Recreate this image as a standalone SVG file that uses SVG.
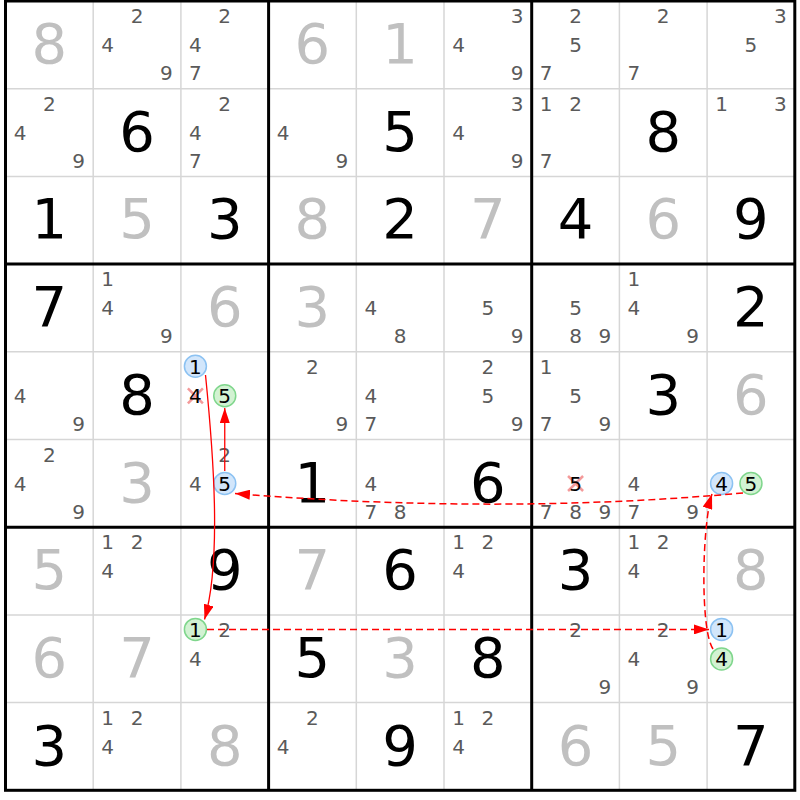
<svg xmlns="http://www.w3.org/2000/svg" width="800" height="800" viewBox="0 0 800 800">
<style>
text{font-family:"DejaVu Sans","Liberation Sans",sans-serif;text-anchor:middle}
.b{font-size:56px}
.g{fill:#c0c0c0}
.k{fill:#000}
.c{font-size:20px;fill:#5a5a5a}
.h{font-size:20px;fill:#000}
.thin{stroke:#d6d6d6;stroke-width:1.5}
.thick{stroke:#000;stroke-width:3}
.cb{fill:#d2e6fb;stroke:#8cc2f2;stroke-width:1.5}
.cg{fill:#d2f2d2;stroke:#7fd68c;stroke-width:1.5}
.x{stroke:#f49a9a;stroke-width:2.5}
.sol{fill:none;stroke:#ff0000;stroke-width:1.3}
.dash{fill:none;stroke:#ff0000;stroke-width:1.5;stroke-dasharray:7 4}
</style>
<defs>
<marker id="ah" markerUnits="userSpaceOnUse" viewBox="0 0 15 10" refX="15" refY="5" markerWidth="15" markerHeight="10" orient="auto">
<path d="M0,0 L15,5 L0,10 Z" fill="#ff0000"/>
</marker>
</defs>
<rect width="800" height="800" fill="#fff"/>
<g id="grid">
<g class="thin">
<line x1="93.2" y1="1" x2="93.2" y2="790.3"/><line x1="180.9" y1="1" x2="180.9" y2="790.3"/>
<line x1="356.3" y1="1" x2="356.3" y2="790.3"/><line x1="444" y1="1" x2="444" y2="790.3"/>
<line x1="619.4" y1="1" x2="619.4" y2="790.3"/><line x1="707.1" y1="1" x2="707.1" y2="790.3"/>
<line x1="5.5" y1="88.7" x2="794.8" y2="88.7"/><line x1="5.5" y1="176.4" x2="794.8" y2="176.4"/>
<line x1="5.5" y1="351.8" x2="794.8" y2="351.8"/><line x1="5.5" y1="439.5" x2="794.8" y2="439.5"/>
<line x1="5.5" y1="614.9" x2="794.8" y2="614.9"/><line x1="5.5" y1="702.6" x2="794.8" y2="702.6"/>
</g>
<g class="thick">
<line x1="268.6" y1="1" x2="268.6" y2="790.3"/><line x1="531.7" y1="1" x2="531.7" y2="790.3"/>
<line x1="5.5" y1="264.1" x2="794.8" y2="264.1"/><line x1="5.5" y1="527.2" x2="794.8" y2="527.2"/>
<rect x="5.5" y="1" width="789.3" height="789.3" fill="none"/>
</g>
</g>

<g id="r0c0" transform="translate(5.5,1)"><text class="b g" x="43.85" y="62">8</text></g>
<g id="r0c1" transform="translate(93.2,1)"><text class="c" x="43.85" y="22">2</text><text class="c" x="14.5" y="51">4</text><text class="c" x="73.2" y="79">9</text></g>
<g id="r0c2" transform="translate(180.9,1)"><text class="c" x="43.85" y="22">2</text><text class="c" x="14.5" y="51">4</text><text class="c" x="14.5" y="79">7</text></g>
<g id="r0c3" transform="translate(268.6,1)"><text class="b g" x="43.85" y="62">6</text></g>
<g id="r0c4" transform="translate(356.3,1)"><text class="b g" x="43.85" y="62">1</text></g>
<g id="r0c5" transform="translate(444,1)"><text class="c" x="73.2" y="22">3</text><text class="c" x="14.5" y="51">4</text><text class="c" x="73.2" y="79">9</text></g>
<g id="r0c6" transform="translate(531.7,1)"><text class="c" x="43.85" y="22">2</text><text class="c" x="43.85" y="51">5</text><text class="c" x="14.5" y="79">7</text></g>
<g id="r0c7" transform="translate(619.4,1)"><text class="c" x="43.85" y="22">2</text><text class="c" x="14.5" y="79">7</text></g>
<g id="r0c8" transform="translate(707.1,1)"><text class="c" x="73.2" y="22">3</text><text class="c" x="43.85" y="51">5</text></g>

<g id="r1c0" transform="translate(5.5,88.7)"><text class="c" x="43.85" y="22">2</text><text class="c" x="14.5" y="51">4</text><text class="c" x="73.2" y="79">9</text></g>
<g id="r1c1" transform="translate(93.2,88.7)"><text class="b k" x="43.85" y="62">6</text></g>
<g id="r1c2" transform="translate(180.9,88.7)"><text class="c" x="43.85" y="22">2</text><text class="c" x="14.5" y="51">4</text><text class="c" x="14.5" y="79">7</text></g>
<g id="r1c3" transform="translate(268.6,88.7)"><text class="c" x="14.5" y="51">4</text><text class="c" x="73.2" y="79">9</text></g>
<g id="r1c4" transform="translate(356.3,88.7)"><text class="b k" x="43.85" y="62">5</text></g>
<g id="r1c5" transform="translate(444,88.7)"><text class="c" x="73.2" y="22">3</text><text class="c" x="14.5" y="51">4</text><text class="c" x="73.2" y="79">9</text></g>
<g id="r1c6" transform="translate(531.7,88.7)"><text class="c" x="14.5" y="22">1</text><text class="c" x="43.85" y="22">2</text><text class="c" x="14.5" y="79">7</text></g>
<g id="r1c7" transform="translate(619.4,88.7)"><text class="b k" x="43.85" y="62">8</text></g>
<g id="r1c8" transform="translate(707.1,88.7)"><text class="c" x="14.5" y="22">1</text><text class="c" x="73.2" y="22">3</text></g>

<g id="r2c0" transform="translate(5.5,176.4)"><text class="b k" x="43.85" y="62">1</text></g>
<g id="r2c1" transform="translate(93.2,176.4)"><text class="b g" x="43.85" y="62">5</text></g>
<g id="r2c2" transform="translate(180.9,176.4)"><text class="b k" x="43.85" y="62">3</text></g>
<g id="r2c3" transform="translate(268.6,176.4)"><text class="b g" x="43.85" y="62">8</text></g>
<g id="r2c4" transform="translate(356.3,176.4)"><text class="b k" x="43.85" y="62">2</text></g>
<g id="r2c5" transform="translate(444,176.4)"><text class="b g" x="43.85" y="62">7</text></g>
<g id="r2c6" transform="translate(531.7,176.4)"><text class="b k" x="43.85" y="62">4</text></g>
<g id="r2c7" transform="translate(619.4,176.4)"><text class="b g" x="43.85" y="62">6</text></g>
<g id="r2c8" transform="translate(707.1,176.4)"><text class="b k" x="43.85" y="62">9</text></g>

<g id="r3c0" transform="translate(5.5,264.1)"><text class="b k" x="43.85" y="62">7</text></g>
<g id="r3c1" transform="translate(93.2,264.1)"><text class="c" x="14.5" y="22">1</text><text class="c" x="14.5" y="51">4</text><text class="c" x="73.2" y="79">9</text></g>
<g id="r3c2" transform="translate(180.9,264.1)"><text class="b g" x="43.85" y="62">6</text></g>
<g id="r3c3" transform="translate(268.6,264.1)"><text class="b g" x="43.85" y="62">3</text></g>
<g id="r3c4" transform="translate(356.3,264.1)"><text class="c" x="14.5" y="51">4</text><text class="c" x="43.85" y="79">8</text></g>
<g id="r3c5" transform="translate(444,264.1)"><text class="c" x="43.85" y="51">5</text><text class="c" x="73.2" y="79">9</text></g>
<g id="r3c6" transform="translate(531.7,264.1)"><text class="c" x="43.85" y="51">5</text><text class="c" x="43.85" y="79">8</text><text class="c" x="73.2" y="79">9</text></g>
<g id="r3c7" transform="translate(619.4,264.1)"><text class="c" x="14.5" y="22">1</text><text class="c" x="14.5" y="51">4</text><text class="c" x="73.2" y="79">9</text></g>
<g id="r3c8" transform="translate(707.1,264.1)"><text class="b k" x="43.85" y="62">2</text></g>

<g id="r4c0" transform="translate(5.5,351.8)"><text class="c" x="14.5" y="51">4</text><text class="c" x="73.2" y="79">9</text></g>
<g id="r4c1" transform="translate(93.2,351.8)"><text class="b k" x="43.85" y="62">8</text></g>
<g id="r4c2" transform="translate(180.9,351.8)">
<circle class="cb" cx="14.5" cy="14.5" r="11"/><text class="h" x="14.5" y="22">1</text>
<line class="x" x1="7" y1="36.5" x2="22" y2="51.5"/><line class="x" x1="22" y1="36.5" x2="7" y2="51.5"/><text class="h" x="14.5" y="51">4</text>
<circle class="cg" cx="43.85" cy="44" r="11"/><text class="h" x="43.85" y="51">5</text>
</g>
<g id="r4c3" transform="translate(268.6,351.8)"><text class="c" x="43.85" y="22">2</text><text class="c" x="73.2" y="79">9</text></g>
<g id="r4c4" transform="translate(356.3,351.8)"><text class="c" x="14.5" y="51">4</text><text class="c" x="14.5" y="79">7</text></g>
<g id="r4c5" transform="translate(444,351.8)"><text class="c" x="43.85" y="22">2</text><text class="c" x="43.85" y="51">5</text><text class="c" x="73.2" y="79">9</text></g>
<g id="r4c6" transform="translate(531.7,351.8)"><text class="c" x="14.5" y="22">1</text><text class="c" x="43.85" y="51">5</text><text class="c" x="14.5" y="79">7</text><text class="c" x="73.2" y="79">9</text></g>
<g id="r4c7" transform="translate(619.4,351.8)"><text class="b k" x="43.85" y="62">3</text></g>
<g id="r4c8" transform="translate(707.1,351.8)"><text class="b g" x="43.85" y="62">6</text></g>

<g id="r5c0" transform="translate(5.5,439.5)"><text class="c" x="43.85" y="22">2</text><text class="c" x="14.5" y="51">4</text><text class="c" x="73.2" y="79">9</text></g>
<g id="r5c1" transform="translate(93.2,439.5)"><text class="b g" x="43.85" y="62">3</text></g>
<g id="r5c2" transform="translate(180.9,439.5)"><text class="c" x="43.85" y="22">2</text><text class="c" x="14.5" y="51">4</text><circle class="cb" cx="43.85" cy="44" r="11"/><text class="h" x="43.85" y="51">5</text></g>
<g id="r5c3" transform="translate(268.6,439.5)"><text class="b k" x="43.85" y="62">1</text></g>
<g id="r5c4" transform="translate(356.3,439.5)"><text class="c" x="14.5" y="51">4</text><text class="c" x="14.5" y="79">7</text><text class="c" x="43.85" y="79">8</text></g>
<g id="r5c5" transform="translate(444,439.5)"><text class="b k" x="43.85" y="62">6</text></g>
<g id="r5c6" transform="translate(531.7,439.5)"><line class="x" x1="36.35" y1="36.5" x2="51.35" y2="51.5"/><line class="x" x1="51.35" y1="36.5" x2="36.35" y2="51.5"/><text class="h" x="43.85" y="51">5</text><text class="c" x="14.5" y="79">7</text><text class="c" x="43.85" y="79">8</text><text class="c" x="73.2" y="79">9</text></g>
<g id="r5c7" transform="translate(619.4,439.5)"><text class="c" x="14.5" y="51">4</text><text class="c" x="14.5" y="79">7</text><text class="c" x="73.2" y="79">9</text></g>
<g id="r5c8" transform="translate(707.1,439.5)"><circle class="cb" cx="14.5" cy="44" r="11"/><text class="h" x="14.5" y="51">4</text><circle class="cg" cx="43.85" cy="44" r="11"/><text class="h" x="43.85" y="51">5</text></g>

<g id="r6c0" transform="translate(5.5,527.2)"><text class="b g" x="43.85" y="62">5</text></g>
<g id="r6c1" transform="translate(93.2,527.2)"><text class="c" x="14.5" y="22">1</text><text class="c" x="43.85" y="22">2</text><text class="c" x="14.5" y="51">4</text></g>
<g id="r6c2" transform="translate(180.9,527.2)"><text class="b k" x="43.85" y="62">9</text></g>
<g id="r6c3" transform="translate(268.6,527.2)"><text class="b g" x="43.85" y="62">7</text></g>
<g id="r6c4" transform="translate(356.3,527.2)"><text class="b k" x="43.85" y="62">6</text></g>
<g id="r6c5" transform="translate(444,527.2)"><text class="c" x="14.5" y="22">1</text><text class="c" x="43.85" y="22">2</text><text class="c" x="14.5" y="51">4</text></g>
<g id="r6c6" transform="translate(531.7,527.2)"><text class="b k" x="43.85" y="62">3</text></g>
<g id="r6c7" transform="translate(619.4,527.2)"><text class="c" x="14.5" y="22">1</text><text class="c" x="43.85" y="22">2</text><text class="c" x="14.5" y="51">4</text></g>
<g id="r6c8" transform="translate(707.1,527.2)"><text class="b g" x="43.85" y="62">8</text></g>

<g id="r7c0" transform="translate(5.5,614.9)"><text class="b g" x="43.85" y="62">6</text></g>
<g id="r7c1" transform="translate(93.2,614.9)"><text class="b g" x="43.85" y="62">7</text></g>
<g id="r7c2" transform="translate(180.9,614.9)"><circle class="cg" cx="14.5" cy="14.5" r="11"/><text class="h" x="14.5" y="22">1</text><text class="c" x="43.85" y="22">2</text><text class="c" x="14.5" y="51">4</text></g>
<g id="r7c3" transform="translate(268.6,614.9)"><text class="b k" x="43.85" y="62">5</text></g>
<g id="r7c4" transform="translate(356.3,614.9)"><text class="b g" x="43.85" y="62">3</text></g>
<g id="r7c5" transform="translate(444,614.9)"><text class="b k" x="43.85" y="62">8</text></g>
<g id="r7c6" transform="translate(531.7,614.9)"><text class="c" x="43.85" y="22">2</text><text class="c" x="73.2" y="79">9</text></g>
<g id="r7c7" transform="translate(619.4,614.9)"><text class="c" x="43.85" y="22">2</text><text class="c" x="14.5" y="51">4</text><text class="c" x="73.2" y="79">9</text></g>
<g id="r7c8" transform="translate(707.1,614.9)"><circle class="cb" cx="14.5" cy="14.5" r="11"/><text class="h" x="14.5" y="22">1</text><circle class="cg" cx="14.5" cy="44" r="11"/><text class="h" x="14.5" y="51">4</text></g>

<g id="r8c0" transform="translate(5.5,702.6)"><text class="b k" x="43.85" y="62">3</text></g>
<g id="r8c1" transform="translate(93.2,702.6)"><text class="c" x="14.5" y="22">1</text><text class="c" x="43.85" y="22">2</text><text class="c" x="14.5" y="51">4</text></g>
<g id="r8c2" transform="translate(180.9,702.6)"><text class="b g" x="43.85" y="62">8</text></g>
<g id="r8c3" transform="translate(268.6,702.6)"><text class="c" x="43.85" y="22">2</text><text class="c" x="14.5" y="51">4</text></g>
<g id="r8c4" transform="translate(356.3,702.6)"><text class="b k" x="43.85" y="62">9</text></g>
<g id="r8c5" transform="translate(444,702.6)"><text class="c" x="14.5" y="22">1</text><text class="c" x="43.85" y="22">2</text><text class="c" x="14.5" y="51">4</text></g>
<g id="r8c6" transform="translate(531.7,702.6)"><text class="b g" x="43.85" y="62">6</text></g>
<g id="r8c7" transform="translate(619.4,702.6)"><text class="b g" x="43.85" y="62">5</text></g>
<g id="r8c8" transform="translate(707.1,702.6)"><text class="b k" x="43.85" y="62">7</text></g>

<g id="connectors">
<path class="sol" d="M205.5,375 C213,450 222,560 204.5,619.5" marker-end="url(#ah)"/>
<path class="sol" d="M224.75,471 L224.75,408" marker-end="url(#ah)"/>
<path class="dash" d="M207,629.4 L709,629.4" marker-end="url(#ah)"/>
<path class="dash" d="M743,493 Q500,515 235,493.5" marker-end="url(#ah)"/>
<path class="dash" d="M713,649 C700,630 702,525 712,494" marker-end="url(#ah)"/>
</g>
</svg>
